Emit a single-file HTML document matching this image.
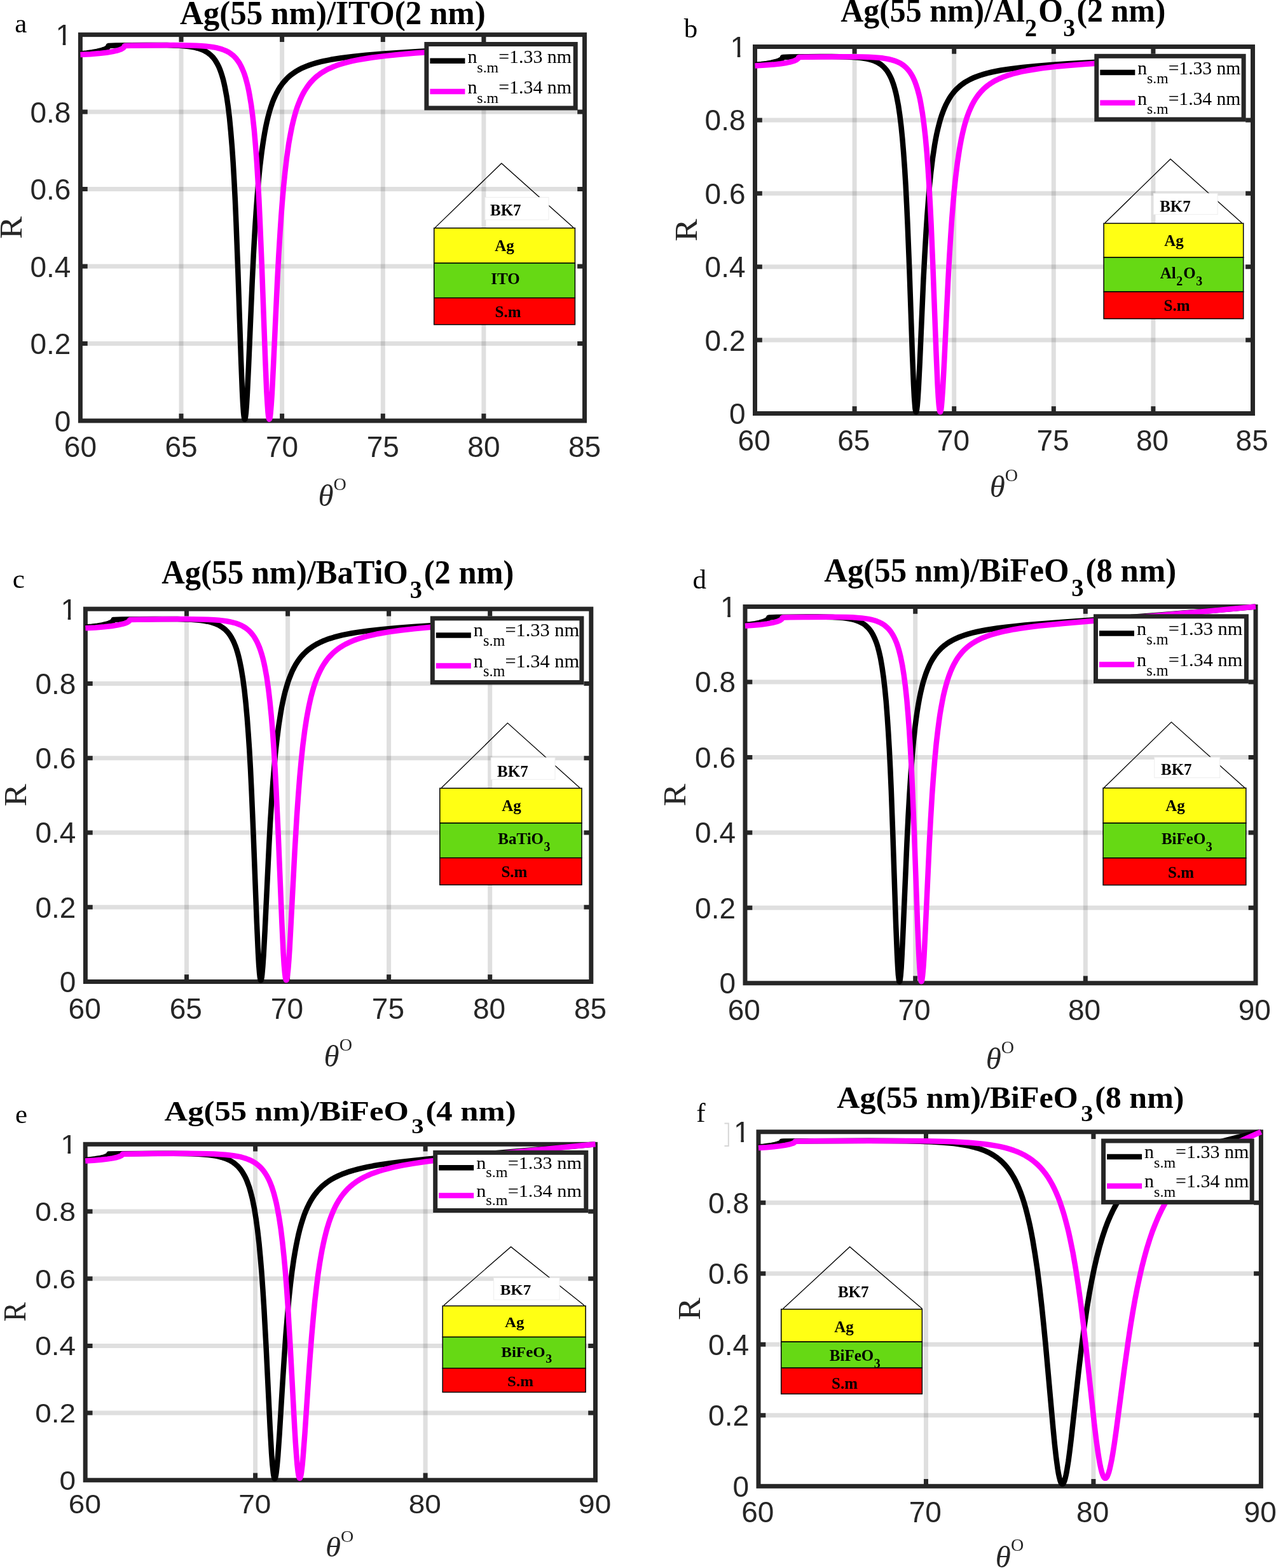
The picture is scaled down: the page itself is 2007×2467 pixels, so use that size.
<!DOCTYPE html>
<html><head><meta charset="utf-8"><title>SPR reflectance curves</title>
<style>html,body{margin:0;padding:0;background:#fff;}svg{display:block;}</style></head>
<body><svg width="2007" height="2467" viewBox="0 0 2007 2467">
<rect width="2007" height="2467" fill="#fff"/>
<path d="M285.0 54.6V662.0" stroke="#262626" stroke-opacity="0.15" stroke-width="7.0" fill="none"/>
<path d="M443.6 54.6V662.0" stroke="#262626" stroke-opacity="0.15" stroke-width="7.0" fill="none"/>
<path d="M602.3 54.6V662.0" stroke="#262626" stroke-opacity="0.15" stroke-width="7.0" fill="none"/>
<path d="M760.9 54.6V662.0" stroke="#262626" stroke-opacity="0.15" stroke-width="7.0" fill="none"/>
<path d="M126.4 540.5H919.5" stroke="#262626" stroke-opacity="0.15" stroke-width="7.0" fill="none"/>
<path d="M126.4 419.0H919.5" stroke="#262626" stroke-opacity="0.15" stroke-width="7.0" fill="none"/>
<path d="M126.4 297.6H919.5" stroke="#262626" stroke-opacity="0.15" stroke-width="7.0" fill="none"/>
<path d="M126.4 176.1H919.5" stroke="#262626" stroke-opacity="0.15" stroke-width="7.0" fill="none"/>
<path d="M285.0 662.0v-11.3M285.0 54.6v11.3M443.6 662.0v-11.3M443.6 54.6v11.3M602.3 662.0v-11.3M602.3 54.6v11.3M760.9 662.0v-11.3M760.9 54.6v11.3M126.4 540.5h11.3M919.5 540.5h-11.3M126.4 419.0h11.3M919.5 419.0h-11.3M126.4 297.6h11.3M919.5 297.6h-11.3M126.4 176.1h11.3M919.5 176.1h-11.3" stroke="#262626" stroke-width="7.0" fill="none"/>
<rect x="126.4" y="54.6" width="793.1" height="607.4" fill="none" stroke="#262626" stroke-width="7.0"/>
<path d="M126.4 84.5L136.3 83.5 145.0 82.3 152.4 81.0 158.7 79.5 163.5 77.9 165.5 77.1 167.1 76.2 168.6 75.2 169.6 74.2 170.2 73.1 170.5 72.1 171.3 71.9 182.3 71.6 206.0 71.2 230.2 71.0 249.3 71.0 262.3 71.1 273.2 71.4 282.6 71.8 290.7 72.5 296.4 73.1 301.6 73.8 306.3 74.7 310.6 75.8 314.6 77.0 318.3 78.4 321.8 80.0 324.9 81.8 327.9 83.8 330.7 86.0 333.3 88.5 335.8 91.2 338.1 94.3 340.2 97.6 342.3 101.3 344.2 105.2 346.0 109.5 347.7 114.2 349.3 119.3 350.9 124.7 352.3 130.6 353.7 136.9 356.4 151.2 358.8 167.5 361.0 186.1 363.0 207.1 365.0 231.4 366.7 256.3 368.3 284.3 369.9 315.3 371.4 350.6 374.1 421.5 379.1 567.3 381.0 615.0 382.0 634.9 383.0 648.9 383.5 653.7 384.0 657.1 384.5 659.0 384.7 659.5 384.9 659.7 385.2 659.5 385.4 659.1 385.9 657.1 386.9 649.4 387.9 636.6 389.0 618.0 390.9 578.5 396.8 441.0 398.8 399.5 400.8 363.5 402.7 334.6 404.6 308.5 406.6 284.8 408.7 263.5 411.6 239.6 413.1 228.8 414.7 218.4 416.3 208.9 418.0 199.9 419.8 191.4 421.7 183.5 423.7 176.1 425.8 169.1 428.0 162.6 430.3 156.6 432.8 151.0 435.4 145.7 438.1 140.7 441.0 136.1 444.0 131.9 447.2 128.0 450.6 124.3 454.2 120.8 458.0 117.6 462.0 114.7 466.3 111.9 470.9 109.3 475.7 106.8 480.9 104.6 486.4 102.5 492.3 100.5 498.7 98.6 505.4 96.9 512.7 95.3 520.4 93.8 536.4 91.2 554.7 88.9 575.8 86.7 600.4 84.7 626.3 82.9 657.6 81.0 776.7 74.7" stroke="#000" stroke-width="8.5" fill="none" stroke-linejoin="round"/>
<path d="M126.4 86.1L142.3 85.2 156.0 84.1 167.7 82.7 177.4 81.1 181.5 80.2 185.1 79.3 188.2 78.2 190.8 77.2 192.8 76.1 194.2 75.1 195.4 73.6 195.7 72.9 195.9 72.2 196.6 72.1 206.5 71.8 228.0 71.4 273.2 71.1 298.4 71.4 308.4 71.7 317.1 72.2 323.8 72.7 329.9 73.4 335.4 74.2 340.5 75.2 345.1 76.3 349.4 77.6 353.3 79.1 356.9 80.7 360.4 82.6 363.5 84.8 366.5 87.1 369.3 89.8 371.9 92.7 374.3 96.0 376.7 99.5 378.8 103.4 380.8 107.6 382.7 112.1 384.6 117.1 386.3 122.5 387.9 128.3 389.5 134.5 391.0 141.3 392.4 148.7 395.1 164.9 397.5 183.4 399.8 204.5 401.9 228.8 403.8 253.9 405.5 281.6 407.3 313.0 408.9 348.3 411.9 420.3 417.3 567.4 419.3 615.4 420.5 635.0 421.5 648.9 422.0 653.6 422.6 657.0 423.1 658.9 423.3 659.4 423.6 659.6 423.8 659.4 424.1 659.0 424.6 657.1 425.1 653.9 425.6 649.5 426.7 636.5 427.9 618.1 429.9 578.2 436.2 442.3 438.3 402.1 440.5 366.6 442.3 339.2 444.2 314.6 446.2 291.9 448.3 271.2 451.1 247.5 454.1 226.3 455.8 216.7 457.5 207.6 459.2 199.1 461.1 191.1 463.0 183.5 465.0 176.4 467.1 169.8 469.4 163.6 471.8 157.6 474.2 152.2 476.8 147.0 479.6 142.2 482.5 137.7 485.5 133.5 488.7 129.5 492.2 125.8 495.8 122.3 499.6 119.1 503.6 116.1 507.9 113.2 512.5 110.6 517.3 108.1 522.5 105.8 528.0 103.6 533.8 101.6 540.0 99.6 546.7 97.8 553.8 96.1 561.0 94.6 568.7 93.2 585.7 90.5 605.2 88.1 627.9 85.8 653.0 83.6 683.1 81.5 718.9 79.2 776.7 75.6" stroke="#f0f" stroke-width="8.5" fill="none" stroke-linejoin="round"/>
<g font-family="'Liberation Sans', Arial, sans-serif" font-size="46.0" fill="#262626"><text x="126.4" y="719.3" text-anchor="middle">60</text><text x="285.0" y="719.3" text-anchor="middle">65</text><text x="443.6" y="719.3" text-anchor="middle">70</text><text x="602.3" y="719.3" text-anchor="middle">75</text><text x="760.9" y="719.3" text-anchor="middle">80</text><text x="919.5" y="719.3" text-anchor="middle">85</text><text x="111.4" y="678.5" text-anchor="end">0</text><text x="111.4" y="557.0" text-anchor="end">0.2</text><text x="111.4" y="435.5" text-anchor="end">0.4</text><text x="111.4" y="314.0" text-anchor="end">0.6</text><text x="111.4" y="192.5" text-anchor="end">0.8</text><text x="113.0" y="71.1" text-anchor="end">1</text></g>
<path d="M89.3 66.0h9.4v6.0h-9.4zM103.3 66.0h9.2v6.0h-9.2z" fill="#fff"/>
<g transform="translate(523.4 38.0) scale(1 1.030)"><text x="0" y="0" text-anchor="middle" font-family="'Liberation Serif', 'Times New Roman', serif" font-weight="bold" font-size="51.0" fill="#000" textLength="480.8" lengthAdjust="spacingAndGlyphs"><tspan>Ag(55 nm)/ITO(2 nm)</tspan></text></g>
<text x="23.2" y="50.8" font-family="'Liberation Serif', 'Times New Roman', serif" font-size="43.0" fill="#000">a</text>
<text transform="translate(33.7 358.0) scale(1 1.000) rotate(-90) scale(1.060 1)" text-anchor="middle" font-family="'Liberation Serif', 'Times New Roman', serif" font-size="50.0" fill="#262626">R</text>
<text x="500.5" y="796.0" font-family="'Liberation Serif', 'Times New Roman', serif" font-size="52.0" fill="#262626"><tspan font-style="italic" font-size="49">θ</tspan><tspan font-size="28.1" dx="0" dy="-25.2">O</tspan></text>
<rect x="670.9" y="69.5" width="234.3" height="100.5" fill="#fff" stroke="#262626" stroke-width="7.0"/>
<path d="M676.4 95.7H731.4" stroke="#000" stroke-width="8.5"/>
<text x="735.4" y="98.9" font-family="'Liberation Serif', 'Times New Roman', serif" font-size="29.9" fill="#000">n<tspan dy="14.7" font-size="23.9">s.m</tspan><tspan dy="-14.7">=1.33 nm</tspan></text>
<path d="M676.4 143.9H731.4" stroke="#f0f" stroke-width="8.5"/>
<text x="735.4" y="147.1" font-family="'Liberation Serif', 'Times New Roman', serif" font-size="29.9" fill="#000">n<tspan dy="14.7" font-size="23.9">s.m</tspan><tspan dy="-14.7">=1.34 nm</tspan></text>
<path d="M684.4 358.1L788.8 257.0L901.9 358.1" fill="none" stroke="#000" stroke-width="1.3"/>
<rect x="762.9" y="310.6" width="100.1" height="35.2" fill="#fff" stroke="#ededed" stroke-width="1"/>
<rect x="682.7" y="358.8" width="221.7" height="55.1" fill="#ffff14" stroke="#000" stroke-width="1.5"/>
<rect x="682.7" y="413.9" width="221.7" height="54.8" fill="#66d914" stroke="#000" stroke-width="1.5"/>
<rect x="682.7" y="468.7" width="221.7" height="42.0" fill="#ff0000" stroke="#000" stroke-width="1.5"/>
<text x="795.3" y="339.4" text-anchor="middle" font-family="'Liberation Serif', 'Times New Roman', serif" font-weight="bold" font-size="25.0" fill="#000">BK7</text>
<text x="793.5" y="394.8" text-anchor="middle" font-family="'Liberation Serif', 'Times New Roman', serif" font-weight="bold" font-size="25.0" fill="#000">Ag</text>
<text x="795.0" y="446.7" text-anchor="middle" font-family="'Liberation Serif', 'Times New Roman', serif" font-weight="bold" font-size="25.0" fill="#000">ITO</text>
<text x="799.0" y="498.5" text-anchor="middle" font-family="'Liberation Serif', 'Times New Roman', serif" font-weight="bold" font-size="25.0" fill="#000">S.m</text>
<path d="M1344.1 73.5V650.5" stroke="#262626" stroke-opacity="0.15" stroke-width="7.0" fill="none"/>
<path d="M1500.7 73.5V650.5" stroke="#262626" stroke-opacity="0.15" stroke-width="7.0" fill="none"/>
<path d="M1657.3 73.5V650.5" stroke="#262626" stroke-opacity="0.15" stroke-width="7.0" fill="none"/>
<path d="M1813.9 73.5V650.5" stroke="#262626" stroke-opacity="0.15" stroke-width="7.0" fill="none"/>
<path d="M1187.5 535.1H1970.5" stroke="#262626" stroke-opacity="0.15" stroke-width="7.0" fill="none"/>
<path d="M1187.5 419.7H1970.5" stroke="#262626" stroke-opacity="0.15" stroke-width="7.0" fill="none"/>
<path d="M1187.5 304.3H1970.5" stroke="#262626" stroke-opacity="0.15" stroke-width="7.0" fill="none"/>
<path d="M1187.5 188.9H1970.5" stroke="#262626" stroke-opacity="0.15" stroke-width="7.0" fill="none"/>
<path d="M1344.1 650.5v-11.3M1344.1 73.5v11.3M1500.7 650.5v-11.3M1500.7 73.5v11.3M1657.3 650.5v-11.3M1657.3 73.5v11.3M1813.9 650.5v-11.3M1813.9 73.5v11.3M1187.5 535.1h11.3M1970.5 535.1h-11.3M1187.5 419.7h11.3M1970.5 419.7h-11.3M1187.5 304.3h11.3M1970.5 304.3h-11.3M1187.5 188.9h11.3M1970.5 188.9h-11.3" stroke="#262626" stroke-width="7.0" fill="none"/>
<rect x="1187.5" y="73.5" width="783.0" height="577.0" fill="none" stroke="#262626" stroke-width="7.0"/>
<path d="M1187.5 101.9L1197.3 101.0 1205.9 99.9 1213.2 98.6 1219.4 97.2 1224.2 95.7 1227.7 94.0 1229.1 93.1 1230.2 92.1 1230.8 91.1 1231.0 90.1 1231.8 90.0 1242.5 89.6 1265.6 89.3 1289.3 89.1 1308.0 89.0 1320.7 89.2 1331.4 89.4 1340.6 89.9 1348.6 90.5 1354.1 91.1 1359.2 91.8 1363.8 92.6 1368.1 93.6 1372.0 94.8 1375.7 96.1 1379.0 97.6 1382.1 99.3 1385.1 101.2 1387.8 103.3 1390.3 105.7 1392.7 108.3 1395.0 111.2 1397.1 114.3 1399.1 117.8 1401.0 121.6 1402.8 125.7 1404.4 130.1 1406.0 134.9 1407.5 140.1 1409.0 145.8 1410.3 151.7 1412.9 165.2 1415.2 180.6 1417.4 198.4 1419.4 218.6 1421.3 241.5 1423.0 265.4 1424.6 291.7 1426.1 321.5 1427.6 354.6 1430.3 421.8 1435.1 560.5 1437.0 605.5 1438.0 624.6 1439.0 637.8 1439.4 642.4 1439.9 645.7 1440.4 647.6 1440.6 648.1 1440.9 648.3 1441.1 648.2 1441.3 647.7 1441.8 645.9 1442.7 638.8 1443.7 626.6 1444.8 608.8 1446.7 571.0 1452.4 440.6 1454.5 400.8 1456.5 366.4 1458.3 339.2 1460.2 314.3 1462.1 291.6 1464.2 271.3 1467.0 248.5 1470.0 228.6 1471.6 219.5 1473.3 210.9 1475.1 203.0 1477.0 195.5 1478.9 188.5 1481.0 181.8 1483.2 175.7 1485.5 169.9 1487.9 164.6 1490.5 159.6 1493.2 154.9 1496.0 150.5 1499.0 146.5 1502.1 142.8 1505.5 139.3 1509.0 136.1 1512.8 133.0 1516.7 130.2 1521.0 127.6 1525.5 125.1 1530.3 122.8 1535.4 120.7 1540.9 118.7 1546.8 116.9 1553.0 115.1 1559.7 113.5 1566.9 112.0 1574.6 110.5 1590.4 108.1 1608.5 105.9 1629.4 103.9 1653.8 102.0 1679.3 100.3 1710.1 98.6 1829.6 92.5" stroke="#000" stroke-width="8.5" fill="none" stroke-linejoin="round"/>
<path d="M1187.5 103.5L1203.2 102.6 1216.7 101.6 1228.2 100.3 1237.8 98.7 1241.9 97.9 1245.5 96.9 1248.6 96.0 1251.1 94.9 1253.1 93.9 1254.5 92.9 1255.7 91.6 1255.9 90.9 1256.1 90.2 1256.8 90.1 1266.4 89.8 1287.2 89.5 1331.5 89.2 1356.2 89.4 1366.0 89.7 1374.5 90.2 1381.1 90.7 1387.1 91.3 1392.5 92.1 1397.4 93.0 1402.0 94.1 1406.2 95.3 1410.0 96.7 1413.6 98.3 1417.0 100.1 1420.1 102.1 1423.0 104.4 1425.7 106.9 1428.2 109.6 1430.6 112.7 1432.9 116.1 1435.0 119.7 1437.0 123.7 1438.9 128.0 1440.6 132.7 1442.3 137.8 1443.9 143.3 1445.5 149.4 1447.0 155.9 1448.3 162.7 1450.9 178.0 1453.3 195.7 1455.6 216.0 1457.7 239.0 1459.5 262.9 1461.2 289.6 1462.9 319.2 1464.6 353.0 1467.4 420.6 1472.7 560.7 1474.7 606.1 1475.8 624.9 1476.8 637.8 1477.4 642.4 1477.9 645.7 1478.4 647.5 1478.6 648.0 1478.9 648.2 1479.1 648.1 1479.3 647.6 1479.9 645.8 1480.4 642.7 1480.9 638.4 1481.9 626.3 1483.1 608.7 1485.1 571.1 1491.2 442.1 1493.3 403.6 1495.4 370.0 1497.2 343.7 1499.1 320.1 1501.0 298.5 1503.1 278.7 1505.9 256.1 1508.9 236.1 1510.5 226.9 1512.1 218.3 1513.9 210.2 1515.7 202.6 1517.6 195.3 1519.6 188.7 1521.7 182.4 1523.9 176.4 1526.3 170.8 1528.7 165.6 1531.3 160.7 1534.0 156.1 1536.9 151.9 1539.9 147.9 1543.0 144.2 1546.4 140.7 1550.0 137.4 1553.8 134.4 1557.8 131.5 1562.0 128.8 1566.5 126.3 1571.3 124.0 1576.4 121.8 1581.9 119.8 1587.6 117.8 1593.8 116.0 1600.4 114.3 1607.5 112.7 1614.6 111.3 1622.2 110.0 1639.1 107.4 1658.5 105.1 1681.0 103.0 1705.8 101.0 1735.6 99.0 1771.0 96.8 1829.6 93.4" stroke="#f0f" stroke-width="8.5" fill="none" stroke-linejoin="round"/>
<g font-family="'Liberation Sans', Arial, sans-serif" font-size="46.0" fill="#262626"><text x="1186.2" y="708.7" text-anchor="middle">60</text><text x="1342.8" y="708.7" text-anchor="middle">65</text><text x="1499.4" y="708.7" text-anchor="middle">70</text><text x="1656.0" y="708.7" text-anchor="middle">75</text><text x="1812.6" y="708.7" text-anchor="middle">80</text><text x="1969.2" y="708.7" text-anchor="middle">85</text><text x="1172.5" y="667.0" text-anchor="end">0</text><text x="1172.5" y="551.6" text-anchor="end">0.2</text><text x="1172.5" y="436.2" text-anchor="end">0.4</text><text x="1172.5" y="320.8" text-anchor="end">0.6</text><text x="1172.5" y="205.4" text-anchor="end">0.8</text><text x="1174.1" y="90.0" text-anchor="end">1</text></g>
<path d="M1150.4 84.9h9.4v6.0h-9.4zM1164.4 84.9h9.2v6.0h-9.2z" fill="#fff"/>
<g transform="translate(1577.8 33.7) scale(1 1.030)"><text x="0" y="0" text-anchor="middle" font-family="'Liberation Serif', 'Times New Roman', serif" font-weight="bold" font-size="51.0" fill="#000" textLength="511.0" lengthAdjust="spacingAndGlyphs"><tspan>Ag(55 nm)/Al</tspan><tspan dx="0.3" dy="22.9" font-size="38.8">2</tspan><tspan dx="2.2" dy="-22.9">O</tspan><tspan dx="0.3" dy="22.9" font-size="38.8">3</tspan><tspan dx="2.2" dy="-22.9">(2 nm)</tspan></text></g>
<text x="1075.7" y="59.4" font-family="'Liberation Serif', 'Times New Roman', serif" font-size="43.0" fill="#000">b</text>
<text transform="translate(1096.0 362.0) scale(1 1.000) rotate(-90) scale(1.060 1)" text-anchor="middle" font-family="'Liberation Serif', 'Times New Roman', serif" font-size="50.0" fill="#262626">R</text>
<text x="1556.7" y="782.0" font-family="'Liberation Serif', 'Times New Roman', serif" font-size="52.0" fill="#262626"><tspan font-style="italic" font-size="49">θ</tspan><tspan font-size="28.1" dx="0" dy="-25.2">O</tspan></text>
<rect x="1724.8" y="88.3" width="231.3" height="99.6" fill="#fff" stroke="#262626" stroke-width="7.0"/>
<path d="M1730.3 114.0H1785.3" stroke="#000" stroke-width="8.5"/>
<text x="1789.3" y="116.7" font-family="'Liberation Serif', 'Times New Roman', serif" font-size="29.6" fill="#000">n<tspan dy="14.5" font-size="23.7">s.m</tspan><tspan dy="-14.5">=1.33 nm</tspan></text>
<path d="M1730.3 161.8H1785.3" stroke="#f0f" stroke-width="8.5"/>
<text x="1789.3" y="164.5" font-family="'Liberation Serif', 'Times New Roman', serif" font-size="29.6" fill="#000">n<tspan dy="14.5" font-size="23.7">s.m</tspan><tspan dy="-14.5">=1.34 nm</tspan></text>
<path d="M1738.0 350.7L1841.0 250.2L1953.3 350.7" fill="none" stroke="#000" stroke-width="1.3"/>
<rect x="1814.3" y="304.2" width="100.8" height="33.1" fill="#fff" stroke="#ededed" stroke-width="1"/>
<rect x="1736.1" y="351.4" width="219.6" height="53.6" fill="#ffff14" stroke="#000" stroke-width="1.5"/>
<rect x="1736.1" y="405.0" width="219.6" height="54.1" fill="#66d914" stroke="#000" stroke-width="1.5"/>
<rect x="1736.1" y="459.1" width="219.6" height="42.4" fill="#ff0000" stroke="#000" stroke-width="1.5"/>
<text x="1848.5" y="332.5" text-anchor="middle" font-family="'Liberation Serif', 'Times New Roman', serif" font-weight="bold" font-size="25.0" fill="#000">BK7</text>
<text x="1846.6" y="387.0" text-anchor="middle" font-family="'Liberation Serif', 'Times New Roman', serif" font-weight="bold" font-size="25.0" fill="#000">Ag</text>
<text x="1857.9" y="438.1" text-anchor="middle" font-family="'Liberation Serif', 'Times New Roman', serif" font-weight="bold" font-size="25.0" fill="#000"><tspan>Al</tspan><tspan dx="0.5" dy="10.5" font-size="20.0">2</tspan><tspan dx="1.0" dy="-10.5">O</tspan><tspan dx="0.5" dy="10.5" font-size="20.0">3</tspan></text>
<text x="1851.0" y="488.5" text-anchor="middle" font-family="'Liberation Serif', 'Times New Roman', serif" font-weight="bold" font-size="25.0" fill="#000">S.m</text>
<path d="M293.5 958.1V1544.5" stroke="#262626" stroke-opacity="0.15" stroke-width="7.0" fill="none"/>
<path d="M452.6 958.1V1544.5" stroke="#262626" stroke-opacity="0.15" stroke-width="7.0" fill="none"/>
<path d="M611.6 958.1V1544.5" stroke="#262626" stroke-opacity="0.15" stroke-width="7.0" fill="none"/>
<path d="M770.7 958.1V1544.5" stroke="#262626" stroke-opacity="0.15" stroke-width="7.0" fill="none"/>
<path d="M134.4 1427.2H929.8" stroke="#262626" stroke-opacity="0.15" stroke-width="7.0" fill="none"/>
<path d="M134.4 1309.9H929.8" stroke="#262626" stroke-opacity="0.15" stroke-width="7.0" fill="none"/>
<path d="M134.4 1192.7H929.8" stroke="#262626" stroke-opacity="0.15" stroke-width="7.0" fill="none"/>
<path d="M134.4 1075.4H929.8" stroke="#262626" stroke-opacity="0.15" stroke-width="7.0" fill="none"/>
<path d="M293.5 1544.5v-11.3M293.5 958.1v11.3M452.6 1544.5v-11.3M452.6 958.1v11.3M611.6 1544.5v-11.3M611.6 958.1v11.3M770.7 1544.5v-11.3M770.7 958.1v11.3M134.4 1427.2h11.3M929.8 1427.2h-11.3M134.4 1309.9h11.3M929.8 1309.9h-11.3M134.4 1192.7h11.3M929.8 1192.7h-11.3M134.4 1075.4h11.3M929.8 1075.4h-11.3" stroke="#262626" stroke-width="7.0" fill="none"/>
<rect x="134.4" y="958.1" width="795.4" height="586.4" fill="none" stroke="#262626" stroke-width="7.0"/>
<path d="M134.4 986.6L144.3 985.7 153.0 984.6 160.5 983.4 166.8 982.0 171.6 980.5 175.2 978.9 176.7 977.9 177.7 977.0 178.4 976.0 178.6 975.0 179.5 974.9 191.8 974.5 218.1 974.2 244.4 973.9 264.9 973.9 278.9 974.1 290.6 974.4 300.8 974.8 309.6 975.5 315.6 976.1 321.0 976.8 326.1 977.7 330.7 978.7 334.9 979.9 338.8 981.3 342.5 982.8 345.9 984.6 349.1 986.6 352.0 988.7 354.8 991.1 357.4 993.8 359.9 996.8 362.2 1000.0 364.3 1003.5 366.4 1007.4 368.3 1011.5 370.1 1016.0 371.9 1020.9 373.5 1026.2 375.1 1032.0 376.6 1038.2 379.4 1051.9 382.0 1067.6 384.4 1085.6 386.6 1106.0 388.7 1129.3 390.5 1153.5 392.3 1180.1 394.0 1210.2 395.6 1243.8 398.5 1311.9 403.9 1452.6 406.0 1499.0 407.1 1518.4 408.2 1531.8 408.7 1536.4 409.2 1539.7 409.7 1541.6 410.0 1542.1 410.3 1542.2 410.5 1542.1 410.7 1541.6 411.3 1539.8 411.8 1536.7 412.3 1532.4 413.4 1519.9 414.6 1502.3 416.7 1464.0 423.0 1332.8 425.1 1293.6 427.3 1259.0 429.2 1231.9 431.2 1207.6 433.2 1185.4 435.4 1165.0 438.3 1142.1 441.5 1121.7 443.1 1112.5 444.9 1103.7 446.7 1095.5 448.6 1087.8 450.7 1080.5 452.8 1073.7 455.0 1067.3 457.4 1061.3 459.8 1055.7 462.4 1050.5 465.1 1045.5 468.0 1040.9 471.0 1036.7 474.2 1032.7 477.6 1029.0 481.2 1025.5 484.9 1022.2 489.0 1019.2 493.2 1016.3 497.7 1013.6 502.5 1011.2 507.6 1008.8 513.1 1006.6 518.8 1004.6 525.0 1002.7 531.6 1000.9 538.6 999.2 546.2 997.6 553.7 996.2 561.8 994.9 579.7 992.4 600.3 990.2 624.2 988.0 650.2 986.1 681.5 984.1 786.6 978.1" stroke="#000" stroke-width="8.5" fill="none" stroke-linejoin="round"/>
<path d="M134.4 988.2L150.2 987.4 164.0 986.3 175.7 985.0 185.5 983.4 193.2 981.7 196.4 980.7 199.0 979.7 200.9 978.8 202.4 977.8 203.6 976.5 203.9 975.8 204.1 975.1 204.9 975.0 215.9 974.7 239.9 974.4 289.2 974.1 316.4 974.4 327.2 974.7 336.6 975.2 343.7 975.7 350.1 976.4 355.9 977.2 361.2 978.2 366.1 979.3 370.7 980.5 374.8 982.0 378.7 983.6 382.3 985.5 385.7 987.5 388.9 989.9 391.9 992.5 394.6 995.3 397.2 998.4 399.7 1001.9 402.0 1005.7 404.2 1009.8 406.2 1014.2 408.2 1019.0 410.0 1024.2 411.8 1029.9 413.5 1035.9 415.1 1042.5 416.6 1049.6 419.5 1065.3 422.1 1083.3 424.5 1103.8 426.8 1126.9 428.8 1151.0 430.7 1178.1 432.6 1208.5 434.4 1242.5 437.6 1311.2 443.4 1452.9 445.6 1499.2 446.8 1518.2 448.0 1531.5 448.6 1536.3 449.1 1539.5 449.7 1541.4 449.9 1541.9 450.2 1542.1 450.5 1542.0 450.7 1541.6 451.2 1540.1 451.7 1537.7 452.2 1534.2 453.3 1524.3 454.4 1510.2 455.6 1492.0 456.9 1467.8 463.6 1339.2 466.9 1283.4 469.2 1250.9 471.4 1222.2 473.8 1196.3 476.3 1172.9 479.2 1150.2 482.3 1130.0 484.0 1120.8 485.7 1111.9 487.5 1103.6 489.3 1095.8 491.3 1088.4 493.3 1081.5 495.4 1075.0 497.7 1068.8 500.0 1063.0 502.5 1057.5 505.1 1052.4 507.8 1047.5 510.7 1043.0 513.7 1038.7 516.9 1034.7 520.3 1031.0 523.8 1027.4 527.6 1024.1 531.6 1021.0 535.8 1018.1 540.2 1015.4 544.9 1012.8 550.0 1010.4 555.3 1008.1 560.9 1006.0 566.9 1004.0 573.3 1002.1 580.1 1000.4 587.1 998.8 594.5 997.2 610.9 994.4 629.6 991.8 651.2 989.4 675.4 987.1 704.0 984.8 738.4 982.4 786.6 979.3" stroke="#f0f" stroke-width="8.5" fill="none" stroke-linejoin="round"/>
<g font-family="'Liberation Sans', Arial, sans-serif" font-size="46.0" fill="#262626"><text x="133.2" y="1602.6" text-anchor="middle">60</text><text x="292.3" y="1602.6" text-anchor="middle">65</text><text x="451.4" y="1602.6" text-anchor="middle">70</text><text x="610.4" y="1602.6" text-anchor="middle">75</text><text x="769.5" y="1602.6" text-anchor="middle">80</text><text x="928.6" y="1602.6" text-anchor="middle">85</text><text x="119.4" y="1561.0" text-anchor="end">0</text><text x="119.4" y="1443.7" text-anchor="end">0.2</text><text x="119.4" y="1326.4" text-anchor="end">0.4</text><text x="119.4" y="1209.1" text-anchor="end">0.6</text><text x="119.4" y="1091.8" text-anchor="end">0.8</text><text x="121.0" y="974.6" text-anchor="end">1</text></g>
<path d="M97.3 969.5h9.4v6.0h-9.4zM111.3 969.5h9.2v6.0h-9.2z" fill="#fff"/>
<g transform="translate(531.3 917.9) scale(1 1.020)"><text x="0" y="0" text-anchor="middle" font-family="'Liberation Serif', 'Times New Roman', serif" font-weight="bold" font-size="51.0" fill="#000" textLength="554.2" lengthAdjust="spacingAndGlyphs"><tspan>Ag(55 nm)/BaTiO</tspan><tspan dx="3.1" dy="22.9" font-size="38.8">3</tspan><tspan dx="2.9" dy="-22.9">(2 nm)</tspan></text></g>
<text x="19.8" y="924.7" font-family="'Liberation Serif', 'Times New Roman', serif" font-size="43.0" fill="#000">c</text>
<text transform="translate(41.3 1251.0) scale(1 1.000) rotate(-90) scale(1.060 1)" text-anchor="middle" font-family="'Liberation Serif', 'Times New Roman', serif" font-size="50.0" fill="#262626">R</text>
<text x="509.6" y="1678.0" font-family="'Liberation Serif', 'Times New Roman', serif" font-size="52.0" fill="#262626"><tspan font-style="italic" font-size="49">θ</tspan><tspan font-size="28.1" dx="0" dy="-25.2">O</tspan></text>
<rect x="680.3" y="972.9" width="234.6" height="100.7" fill="#fff" stroke="#262626" stroke-width="7.0"/>
<path d="M685.8 999.4H740.8" stroke="#000" stroke-width="8.5"/>
<text x="744.8" y="1001.3" font-family="'Liberation Serif', 'Times New Roman', serif" font-size="30.4" fill="#000">n<tspan dy="14.9" font-size="24.3">s.m</tspan><tspan dy="-14.9">=1.33 nm</tspan></text>
<path d="M685.8 1047.6H740.8" stroke="#f0f" stroke-width="8.5"/>
<text x="744.8" y="1049.5" font-family="'Liberation Serif', 'Times New Roman', serif" font-size="30.4" fill="#000">n<tspan dy="14.9" font-size="24.3">s.m</tspan><tspan dy="-14.9">=1.34 nm</tspan></text>
<path d="M694.4 1239.5L798.4 1137.6L911.9 1239.5" fill="none" stroke="#000" stroke-width="1.3"/>
<rect x="772.2" y="1192.0" width="100.8" height="34.3" fill="#fff" stroke="#ededed" stroke-width="1"/>
<rect x="691.8" y="1240.2" width="223.2" height="54.8" fill="#ffff14" stroke="#000" stroke-width="1.5"/>
<rect x="691.8" y="1295.0" width="223.2" height="54.7" fill="#66d914" stroke="#000" stroke-width="1.5"/>
<rect x="691.8" y="1349.7" width="223.2" height="42.5" fill="#ff0000" stroke="#000" stroke-width="1.5"/>
<text x="806.4" y="1221.5" text-anchor="middle" font-family="'Liberation Serif', 'Times New Roman', serif" font-weight="bold" font-size="25.0" fill="#000">BK7</text>
<text x="804.6" y="1276.2" text-anchor="middle" font-family="'Liberation Serif', 'Times New Roman', serif" font-weight="bold" font-size="25.0" fill="#000">Ag</text>
<text x="824.4" y="1328.1" text-anchor="middle" font-family="'Liberation Serif', 'Times New Roman', serif" font-weight="bold" font-size="25.0" fill="#000"><tspan>BaTiO</tspan><tspan dx="0.5" dy="10.5" font-size="20.0">3</tspan></text>
<text x="808.9" y="1380.0" text-anchor="middle" font-family="'Liberation Serif', 'Times New Roman', serif" font-weight="bold" font-size="25.0" fill="#000">S.m</text>
<path d="M1439.7 954.5V1546.8" stroke="#262626" stroke-opacity="0.15" stroke-width="7.0" fill="none"/>
<path d="M1707.3 954.5V1546.8" stroke="#262626" stroke-opacity="0.15" stroke-width="7.0" fill="none"/>
<path d="M1172.0 1428.3H1975.0" stroke="#262626" stroke-opacity="0.15" stroke-width="7.0" fill="none"/>
<path d="M1172.0 1309.9H1975.0" stroke="#262626" stroke-opacity="0.15" stroke-width="7.0" fill="none"/>
<path d="M1172.0 1191.4H1975.0" stroke="#262626" stroke-opacity="0.15" stroke-width="7.0" fill="none"/>
<path d="M1172.0 1073.0H1975.0" stroke="#262626" stroke-opacity="0.15" stroke-width="7.0" fill="none"/>
<path d="M1439.7 1546.8v-11.3M1439.7 954.5v11.3M1707.3 1546.8v-11.3M1707.3 954.5v11.3M1172.0 1428.3h11.3M1975.0 1428.3h-11.3M1172.0 1309.9h11.3M1975.0 1309.9h-11.3M1172.0 1191.4h11.3M1975.0 1191.4h-11.3M1172.0 1073.0h11.3M1975.0 1073.0h-11.3" stroke="#262626" stroke-width="7.0" fill="none"/>
<rect x="1172.0" y="954.5" width="803.0" height="592.3" fill="none" stroke="#262626" stroke-width="7.0"/>
<path d="M1172.0 983.1L1180.4 982.2 1187.7 981.1 1193.9 979.8 1199.2 978.4 1203.2 977.0 1206.3 975.4 1207.5 974.5 1208.5 973.5 1209.0 972.6 1209.2 971.6 1210.0 971.5 1221.1 971.1 1245.0 970.7 1268.3 970.5 1286.5 970.5 1298.8 970.7 1309.3 971.0 1318.2 971.5 1326.0 972.1 1331.3 972.8 1336.1 973.5 1340.4 974.4 1344.5 975.5 1348.2 976.7 1351.7 978.1 1354.9 979.7 1357.9 981.4 1360.7 983.4 1363.3 985.7 1365.7 988.1 1368.0 990.8 1370.2 993.8 1372.2 997.1 1374.1 1000.7 1375.9 1004.6 1377.6 1008.8 1379.3 1013.4 1380.8 1018.3 1382.2 1023.6 1383.6 1029.5 1385.0 1035.7 1387.4 1049.6 1389.7 1065.6 1391.8 1083.6 1393.8 1104.2 1395.6 1127.7 1397.2 1151.8 1398.8 1179.3 1400.3 1209.3 1401.8 1243.4 1404.3 1311.9 1409.1 1454.6 1411.0 1501.0 1412.0 1520.4 1412.9 1534.0 1413.9 1541.9 1414.3 1543.8 1414.5 1544.3 1414.8 1544.5 1415.0 1544.3 1415.2 1543.9 1415.7 1542.1 1416.6 1534.8 1417.6 1522.6 1418.6 1504.3 1420.4 1466.2 1426.4 1327.7 1428.5 1284.7 1430.6 1248.1 1432.6 1217.2 1434.7 1189.8 1437.0 1164.9 1439.4 1143.0 1441.0 1130.7 1442.6 1119.5 1444.3 1109.0 1446.1 1099.0 1448.0 1089.8 1450.0 1081.3 1452.0 1073.4 1454.3 1066.0 1456.6 1059.1 1459.1 1052.7 1461.7 1046.7 1464.5 1041.1 1467.5 1036.0 1470.7 1031.3 1474.1 1026.8 1477.7 1022.7 1481.1 1019.3 1484.7 1016.2 1488.5 1013.3 1492.6 1010.5 1497.0 1008.0 1501.6 1005.6 1506.5 1003.3 1511.7 1001.2 1517.3 999.3 1523.3 997.4 1529.7 995.7 1536.6 994.0 1543.9 992.5 1551.8 991.0 1569.4 988.3 1582.1 986.7 1596.1 985.1 1611.9 983.6 1629.8 982.0 1668.7 979.0 1774.2 971.4 1825.0 967.5 1892.3 961.9 1975.0 954.5" stroke="#000" stroke-width="8.5" fill="none" stroke-linejoin="round"/>
<path d="M1172.0 984.7L1185.3 983.8 1196.9 982.8 1206.7 981.4 1215.0 979.9 1221.5 978.2 1224.1 977.2 1226.3 976.3 1227.9 975.3 1229.2 974.4 1230.2 973.1 1230.6 971.7 1231.3 971.6 1241.4 971.3 1263.2 971.0 1307.2 970.7 1331.3 971.0 1340.9 971.3 1349.2 971.9 1355.4 972.4 1360.9 973.1 1366.0 973.9 1370.7 974.9 1375.0 976.0 1379.0 977.3 1382.6 978.8 1386.0 980.5 1389.3 982.4 1392.2 984.5 1395.0 986.9 1397.6 989.5 1400.1 992.5 1402.3 995.6 1404.5 999.2 1406.5 1002.9 1408.4 1007.1 1410.3 1011.6 1412.0 1016.5 1413.6 1021.7 1415.1 1027.4 1416.6 1033.5 1419.4 1047.3 1421.9 1063.2 1424.2 1081.2 1426.4 1101.9 1428.4 1125.5 1430.2 1149.8 1431.9 1177.5 1433.6 1208.1 1435.2 1242.1 1438.0 1311.3 1443.2 1454.6 1445.2 1501.3 1446.3 1520.6 1447.3 1533.7 1447.8 1538.5 1448.3 1541.6 1448.8 1543.6 1449.0 1544.1 1449.3 1544.2 1449.5 1544.1 1449.8 1543.6 1450.2 1541.8 1451.2 1534.4 1452.3 1522.1 1453.5 1503.7 1455.4 1465.9 1461.7 1328.6 1463.9 1287.0 1466.1 1250.6 1468.2 1220.9 1470.4 1193.8 1472.7 1169.5 1475.2 1148.0 1476.8 1135.7 1478.4 1124.4 1480.2 1113.8 1482.0 1104.0 1483.8 1094.8 1485.9 1086.1 1488.0 1078.0 1490.2 1070.5 1492.5 1063.5 1495.0 1056.9 1497.7 1050.7 1500.4 1045.1 1503.4 1039.8 1506.5 1034.8 1509.9 1030.3 1513.4 1026.0 1516.8 1022.4 1520.4 1019.1 1524.2 1015.9 1528.3 1013.0 1532.6 1010.2 1537.2 1007.6 1542.1 1005.2 1547.3 1002.9 1552.9 1000.8 1558.8 998.8 1565.1 996.9 1571.9 995.1 1579.1 993.4 1586.9 991.8 1595.3 990.2 1604.2 988.8 1618.2 986.8 1633.9 984.8 1651.7 982.9 1672.3 980.9 1706.9 977.9 1798.2 970.4 1849.0 966.1 1905.8 961.0 1975.0 954.5" stroke="#f0f" stroke-width="8.5" fill="none" stroke-linejoin="round"/>
<g font-family="'Liberation Sans', Arial, sans-serif" font-size="46.0" fill="#262626"><text x="1170.3" y="1605.0" text-anchor="middle">60</text><text x="1438.0" y="1605.0" text-anchor="middle">70</text><text x="1705.6" y="1605.0" text-anchor="middle">80</text><text x="1973.3" y="1605.0" text-anchor="middle">90</text><text x="1157.0" y="1563.3" text-anchor="end">0</text><text x="1157.0" y="1444.8" text-anchor="end">0.2</text><text x="1157.0" y="1326.3" text-anchor="end">0.4</text><text x="1157.0" y="1207.9" text-anchor="end">0.6</text><text x="1157.0" y="1089.4" text-anchor="end">0.8</text><text x="1158.6" y="971.0" text-anchor="end">1</text></g>
<path d="M1134.9 965.9h9.4v6.0h-9.4zM1148.9 965.9h9.2v6.0h-9.2z" fill="#fff"/>
<g transform="translate(1573.2 914.7) scale(1 1.030)"><text x="0" y="0" text-anchor="middle" font-family="'Liberation Serif', 'Times New Roman', serif" font-weight="bold" font-size="51.0" fill="#000" textLength="553.9" lengthAdjust="spacingAndGlyphs"><tspan>Ag(55 nm)/BiFeO</tspan><tspan dx="3.8" dy="22.9" font-size="38.8">3</tspan><tspan dx="2.9" dy="-22.9">(8 nm)</tspan></text></g>
<text x="1089.4" y="926.3" font-family="'Liberation Serif', 'Times New Roman', serif" font-size="43.0" fill="#000">d</text>
<text transform="translate(1077.9 1250.7) scale(1 1.000) rotate(-90) scale(1.060 1)" text-anchor="middle" font-family="'Liberation Serif', 'Times New Roman', serif" font-size="50.0" fill="#262626">R</text>
<text x="1550.7" y="1682.0" font-family="'Liberation Serif', 'Times New Roman', serif" font-size="52.0" fill="#262626"><tspan font-style="italic" font-size="49">θ</tspan><tspan font-size="28.1" dx="0" dy="-25.2">O</tspan></text>
<rect x="1723.5" y="969.8" width="236.9" height="102.0" fill="#fff" stroke="#262626" stroke-width="7.0"/>
<path d="M1729.0 996.4H1784.0" stroke="#000" stroke-width="8.5"/>
<text x="1788.0" y="999.2" font-family="'Liberation Serif', 'Times New Roman', serif" font-size="30.4" fill="#000">n<tspan dy="14.9" font-size="24.3">s.m</tspan><tspan dy="-14.9">=1.33 nm</tspan></text>
<path d="M1729.0 1045.6H1784.0" stroke="#f0f" stroke-width="8.5"/>
<text x="1788.0" y="1048.4" font-family="'Liberation Serif', 'Times New Roman', serif" font-size="30.4" fill="#000">n<tspan dy="14.9" font-size="24.3">s.m</tspan><tspan dy="-14.9">=1.34 nm</tspan></text>
<path d="M1736.6 1239.2L1842.4 1136.1L1957.6 1239.2" fill="none" stroke="#000" stroke-width="1.3"/>
<rect x="1815.8" y="1191.3" width="102.9" height="32.4" fill="#fff" stroke="#ededed" stroke-width="1"/>
<rect x="1735.1" y="1239.8" width="224.7" height="55.2" fill="#ffff14" stroke="#000" stroke-width="1.5"/>
<rect x="1735.1" y="1295.0" width="224.7" height="55.0" fill="#66d914" stroke="#000" stroke-width="1.5"/>
<rect x="1735.1" y="1350.0" width="224.7" height="42.5" fill="#ff0000" stroke="#000" stroke-width="1.5"/>
<text x="1850.3" y="1219.4" text-anchor="middle" font-family="'Liberation Serif', 'Times New Roman', serif" font-weight="bold" font-size="25.0" fill="#000">BK7</text>
<text x="1848.5" y="1275.5" text-anchor="middle" font-family="'Liberation Serif', 'Times New Roman', serif" font-weight="bold" font-size="25.0" fill="#000">Ag</text>
<text x="1866.9" y="1328.1" text-anchor="middle" font-family="'Liberation Serif', 'Times New Roman', serif" font-weight="bold" font-size="25.0" fill="#000"><tspan>BiFeO</tspan><tspan dx="0.5" dy="10.5" font-size="20.0">3</tspan></text>
<text x="1857.5" y="1381.4" text-anchor="middle" font-family="'Liberation Serif', 'Times New Roman', serif" font-weight="bold" font-size="25.0" fill="#000">S.m</text>
<path d="M401.6 1800.3V2328.8" stroke="#262626" stroke-opacity="0.15" stroke-width="7.0" fill="none"/>
<path d="M669.1 1800.3V2328.8" stroke="#262626" stroke-opacity="0.15" stroke-width="7.0" fill="none"/>
<path d="M134.2 2223.1H936.5" stroke="#262626" stroke-opacity="0.15" stroke-width="7.0" fill="none"/>
<path d="M134.2 2117.4H936.5" stroke="#262626" stroke-opacity="0.15" stroke-width="7.0" fill="none"/>
<path d="M134.2 2011.7H936.5" stroke="#262626" stroke-opacity="0.15" stroke-width="7.0" fill="none"/>
<path d="M134.2 1906.0H936.5" stroke="#262626" stroke-opacity="0.15" stroke-width="7.0" fill="none"/>
<path d="M401.6 2328.8v-11.3M401.6 1800.3v11.3M669.1 2328.8v-11.3M669.1 1800.3v11.3M134.2 2223.1h11.3M936.5 2223.1h-11.3M134.2 2117.4h11.3M936.5 2117.4h-11.3M134.2 2011.7h11.3M936.5 2011.7h-11.3M134.2 1906.0h11.3M936.5 1906.0h-11.3" stroke="#262626" stroke-width="7.0" fill="none"/>
<rect x="134.2" y="1800.3" width="802.3" height="528.5" fill="none" stroke="#262626" stroke-width="7.0"/>
<path d="M134.2 1825.1L142.5 1824.2 149.7 1823.3 156.0 1822.3 161.2 1821.2 165.2 1820.0 168.2 1818.8 169.6 1818.0 170.5 1817.3 171.1 1816.4 171.3 1815.6 172.7 1815.5 188.1 1815.2 220.5 1814.9 249.8 1814.7 272.2 1814.7 287.7 1814.9 300.8 1815.2 311.9 1815.7 321.7 1816.4 328.0 1817.0 333.8 1817.8 339.1 1818.6 344.0 1819.6 348.5 1820.8 352.7 1822.1 356.6 1823.5 360.3 1825.1 363.7 1827.0 366.9 1829.0 370.0 1831.3 372.8 1833.8 375.5 1836.5 378.0 1839.5 380.4 1842.8 382.6 1846.3 384.8 1850.1 386.8 1854.2 388.7 1858.7 390.5 1863.6 392.3 1868.7 393.9 1874.4 395.5 1880.4 397.1 1886.8 400.0 1901.1 402.6 1917.2 405.1 1935.5 407.5 1956.6 409.5 1978.0 411.5 2001.9 413.4 2028.8 415.3 2058.7 418.6 2119.8 424.7 2244.9 427.1 2286.7 428.4 2304.4 429.7 2316.6 430.3 2321.0 430.9 2324.0 431.5 2325.7 431.8 2326.2 432.1 2326.3 432.4 2326.2 432.7 2325.7 433.3 2324.0 433.9 2321.2 434.5 2317.4 435.8 2306.1 437.2 2290.1 439.6 2255.8 444.6 2173.7 447.0 2136.4 449.5 2100.3 452.1 2069.1 454.4 2043.9 456.8 2021.2 459.3 2000.6 462.0 1981.8 463.8 1971.0 465.6 1960.9 467.5 1951.5 469.4 1942.6 471.5 1934.2 473.7 1926.3 476.0 1918.9 478.3 1912.0 480.8 1905.6 483.5 1899.5 486.3 1893.8 489.2 1888.5 492.3 1883.5 495.6 1878.8 499.0 1874.5 502.7 1870.4 506.3 1866.8 510.2 1863.5 514.2 1860.4 518.4 1857.4 522.9 1854.7 527.7 1852.1 532.8 1849.6 538.2 1847.3 543.9 1845.2 550.0 1843.1 556.4 1841.2 563.3 1839.3 570.7 1837.6 578.5 1835.9 586.9 1834.3 596.0 1832.8 611.6 1830.5 629.3 1828.2 649.5 1825.9 673.1 1823.6 713.3 1819.9 842.6 1808.8 936.5 1800.3" stroke="#000" stroke-width="8.5" fill="none" stroke-linejoin="round"/>
<path d="M134.2 1826.5L147.4 1825.7 158.9 1824.8 168.8 1823.6 177.0 1822.4 183.5 1821.0 188.3 1819.4 190.2 1818.5 191.6 1817.7 192.4 1816.7 192.8 1815.7 193.9 1815.7 208.0 1815.4 238.7 1815.0 294.3 1814.8 310.7 1815.0 324.6 1815.2 336.6 1815.6 347.1 1816.2 354.4 1816.7 361.1 1817.4 367.2 1818.2 372.8 1819.2 378.0 1820.2 382.8 1821.5 387.2 1822.9 391.4 1824.5 395.3 1826.2 399.0 1828.2 402.4 1830.4 405.6 1832.9 408.6 1835.5 411.5 1838.5 414.2 1841.7 416.7 1845.2 419.1 1849.0 421.3 1853.1 423.5 1857.4 425.5 1862.2 427.5 1867.4 429.3 1872.9 431.1 1878.8 432.8 1885.3 434.5 1892.2 436.0 1899.5 439.0 1915.7 441.8 1934.2 444.3 1954.8 446.6 1976.5 448.8 2000.5 450.9 2027.5 453.0 2057.7 456.6 2118.9 463.3 2244.7 464.7 2268.3 466.0 2286.7 467.4 2304.3 468.8 2316.4 469.5 2320.6 470.1 2323.5 470.8 2325.2 471.1 2325.6 471.4 2325.8 471.8 2325.6 472.1 2325.1 472.7 2323.5 473.4 2320.7 474.1 2316.7 475.5 2305.3 476.9 2289.4 479.5 2255.2 484.9 2173.7 487.5 2137.1 490.2 2102.2 492.9 2071.3 495.2 2047.3 497.7 2025.5 500.2 2005.5 502.9 1987.3 504.7 1976.7 506.5 1966.7 508.5 1957.2 510.5 1948.2 512.6 1939.8 514.7 1931.9 517.0 1924.4 519.4 1917.4 521.9 1910.8 524.5 1904.6 527.2 1898.8 530.1 1893.3 533.1 1888.2 536.3 1883.3 539.7 1878.8 543.3 1874.5 546.8 1870.7 550.6 1867.1 554.6 1863.7 558.7 1860.6 563.1 1857.6 567.8 1854.7 572.8 1852.0 578.1 1849.5 583.6 1847.1 589.5 1844.9 595.8 1842.7 602.5 1840.7 609.6 1838.8 617.2 1836.9 625.3 1835.1 634.0 1833.4 650.3 1830.6 668.9 1827.8 690.3 1825.1 715.5 1822.2 764.8 1817.1 936.5 1800.3" stroke="#f0f" stroke-width="8.5" fill="none" stroke-linejoin="round"/>
<g font-family="'Liberation Sans', Arial, sans-serif" font-size="46.0" fill="#262626"><g transform="translate(133.4 2380.7) scale(1 0.910)"><text x="0" y="0" text-anchor="middle">60</text></g><g transform="translate(400.8 2380.7) scale(1 0.910)"><text x="0" y="0" text-anchor="middle">70</text></g><g transform="translate(668.3 2380.7) scale(1 0.910)"><text x="0" y="0" text-anchor="middle">80</text></g><g transform="translate(935.7 2380.7) scale(1 0.910)"><text x="0" y="0" text-anchor="middle">90</text></g><g transform="translate(119.2 2343.8) scale(1 0.910)"><text x="0" y="0" text-anchor="end">0</text></g><g transform="translate(119.2 2238.1) scale(1 0.910)"><text x="0" y="0" text-anchor="end">0.2</text></g><g transform="translate(119.2 2132.4) scale(1 0.910)"><text x="0" y="0" text-anchor="end">0.4</text></g><g transform="translate(119.2 2026.7) scale(1 0.910)"><text x="0" y="0" text-anchor="end">0.6</text></g><g transform="translate(119.2 1921.0) scale(1 0.910)"><text x="0" y="0" text-anchor="end">0.8</text></g><g transform="translate(120.8 1815.3) scale(1 0.910)"><text x="0" y="0" text-anchor="end">1</text></g></g>
<path d="M97.1 1810.7h9.4v5.4h-9.4zM111.1 1810.7h9.2v5.4h-9.2z" fill="#fff"/>
<g transform="translate(535.1 1762.7) scale(1 0.880)"><text x="0" y="0" text-anchor="middle" font-family="'Liberation Serif', 'Times New Roman', serif" font-weight="bold" font-size="51.0" fill="#000" textLength="553.1" lengthAdjust="spacingAndGlyphs"><tspan>Ag(55 nm)/BiFeO</tspan><tspan dx="4.3" dy="22.9" font-size="38.8">3</tspan><tspan dx="2.9" dy="-22.9">(4 nm)</tspan></text></g>
<g transform="translate(24.1 1766.8) scale(1 0.910)"><text x="0" y="0" font-family="'Liberation Serif', 'Times New Roman', serif" font-size="43.0" fill="#000">e</text></g>
<text transform="translate(40.0 2064.0) scale(1 0.910) rotate(-90) scale(1.000 1)" text-anchor="middle" font-family="'Liberation Serif', 'Times New Roman', serif" font-size="50.0" fill="#262626">R</text>
<g transform="translate(512.0 2449.0) scale(1 0.910)"><text x="0" y="0" font-family="'Liberation Serif', 'Times New Roman', serif" font-size="52.0" fill="#262626"><tspan font-style="italic" font-size="49">θ</tspan><tspan font-size="28.1" dx="0" dy="-25.2">O</tspan></text></g>
<rect x="684.7" y="1813.4" width="237.1" height="91.1" fill="#fff" stroke="#262626" stroke-width="7.0"/>
<path d="M690.2 1837.3H745.2" stroke="#000" stroke-width="8.5"/>
<g transform="translate(749.2 1838.8) scale(1 0.910)"><text x="0" y="0" font-family="'Liberation Serif', 'Times New Roman', serif" font-size="30.3" fill="#000">n<tspan dy="14.8" font-size="24.2">s.m</tspan><tspan dy="-14.8">=1.33 nm</tspan></text></g>
<path d="M690.2 1881.0H745.2" stroke="#f0f" stroke-width="8.5"/>
<g transform="translate(749.2 1882.5) scale(1 0.910)"><text x="0" y="0" font-family="'Liberation Serif', 'Times New Roman', serif" font-size="30.3" fill="#000">n<tspan dy="14.8" font-size="24.2">s.m</tspan><tspan dy="-14.8">=1.34 nm</tspan></text></g>
<path d="M698.0 2053.8L803.6 1961.7L918.9 2053.8" fill="none" stroke="#000" stroke-width="1.3"/>
<rect x="776.6" y="2010.4" width="103.4" height="34.6" fill="#fff" stroke="#ededed" stroke-width="1"/>
<rect x="696.2" y="2054.6" width="224.9" height="49.0" fill="#ffff14" stroke="#000" stroke-width="1.5"/>
<rect x="696.2" y="2103.6" width="224.9" height="49.1" fill="#66d914" stroke="#000" stroke-width="1.5"/>
<rect x="696.2" y="2152.7" width="224.9" height="37.7" fill="#ff0000" stroke="#000" stroke-width="1.5"/>
<g transform="translate(811.0 2037.0) scale(1 0.910)"><text x="0" y="0" text-anchor="middle" font-family="'Liberation Serif', 'Times New Roman', serif" font-weight="bold" font-size="25.0" fill="#000">BK7</text></g>
<g transform="translate(809.2 2087.5) scale(1 0.910)"><text x="0" y="0" text-anchor="middle" font-family="'Liberation Serif', 'Times New Roman', serif" font-weight="bold" font-size="25.0" fill="#000">Ag</text></g>
<g transform="translate(828.2 2134.7) scale(1 0.910)"><text x="0" y="0" text-anchor="middle" font-family="'Liberation Serif', 'Times New Roman', serif" font-weight="bold" font-size="25.0" fill="#000"><tspan>BiFeO</tspan><tspan dx="0.5" dy="10.5" font-size="20.0">3</tspan></text></g>
<g transform="translate(818.5 2181.4) scale(1 0.910)"><text x="0" y="0" text-anchor="middle" font-family="'Liberation Serif', 'Times New Roman', serif" font-weight="bold" font-size="25.0" fill="#000">S.m</text></g>
<path d="M1456.5 1780.8V2338.3" stroke="#262626" stroke-opacity="0.15" stroke-width="7.0" fill="none"/>
<path d="M1719.9 1780.8V2338.3" stroke="#262626" stroke-opacity="0.15" stroke-width="7.0" fill="none"/>
<path d="M1193.0 2226.8H1983.4" stroke="#262626" stroke-opacity="0.15" stroke-width="7.0" fill="none"/>
<path d="M1193.0 2115.3H1983.4" stroke="#262626" stroke-opacity="0.15" stroke-width="7.0" fill="none"/>
<path d="M1193.0 2003.8H1983.4" stroke="#262626" stroke-opacity="0.15" stroke-width="7.0" fill="none"/>
<path d="M1193.0 1892.3H1983.4" stroke="#262626" stroke-opacity="0.15" stroke-width="7.0" fill="none"/>
<path d="M1456.5 2338.3v-11.3M1456.5 1780.8v11.3M1719.9 2338.3v-11.3M1719.9 1780.8v11.3M1193.0 2226.8h11.3M1983.4 2226.8h-11.3M1193.0 2115.3h11.3M1983.4 2115.3h-11.3M1193.0 2003.8h11.3M1983.4 2003.8h-11.3M1193.0 1892.3h11.3M1983.4 1892.3h-11.3" stroke="#262626" stroke-width="7.0" fill="none"/>
<rect x="1193.0" y="1780.8" width="790.4" height="557.5" fill="none" stroke="#262626" stroke-width="7.0"/>
<path d="M1193.0 1804.5L1200.9 1803.7 1207.9 1802.8 1213.9 1801.9 1219.0 1800.8 1223.6 1799.6 1226.9 1798.4 1228.1 1797.7 1228.9 1797.0 1229.4 1796.4 1229.6 1795.7 1232.6 1795.5 1262.4 1795.2 1322.8 1794.9 1367.0 1794.8 1400.8 1794.9 1425.9 1795.2 1447.0 1795.7 1465.3 1796.4 1481.3 1797.4 1491.1 1798.2 1500.2 1799.1 1508.6 1800.2 1516.5 1801.5 1523.8 1802.9 1530.6 1804.5 1537.0 1806.3 1543.0 1808.2 1548.7 1810.4 1554.1 1812.8 1559.1 1815.5 1563.9 1818.4 1568.4 1821.5 1572.7 1825.0 1576.8 1828.7 1580.7 1832.7 1584.3 1837.0 1587.7 1841.6 1591.0 1846.6 1594.2 1851.9 1597.3 1857.6 1600.2 1863.7 1603.0 1870.2 1605.7 1877.1 1608.3 1884.5 1610.8 1892.3 1613.2 1900.6 1615.5 1909.5 1617.8 1919.0 1620.1 1929.0 1622.2 1939.5 1624.3 1950.7 1628.0 1973.2 1631.7 1998.2 1635.2 2025.7 1638.7 2056.6 1641.7 2085.7 1644.9 2118.7 1656.5 2248.0 1658.9 2272.6 1661.1 2292.2 1662.5 2302.7 1663.7 2311.4 1664.9 2318.6 1666.2 2324.5 1667.4 2329.2 1668.6 2332.4 1669.2 2333.5 1669.8 2334.3 1670.4 2334.8 1671.0 2334.9 1671.5 2334.8 1672.1 2334.4 1673.2 2332.7 1674.3 2330.0 1675.4 2326.2 1676.6 2321.1 1677.8 2315.1 1680.4 2299.1 1682.5 2283.3 1684.9 2263.4 1696.4 2159.1 1699.6 2132.1 1702.6 2107.7 1706.2 2081.6 1709.7 2057.8 1713.3 2035.8 1717.0 2015.6 1721.0 1995.9 1725.2 1977.8 1729.6 1961.0 1734.2 1945.6 1739.0 1931.4 1741.6 1924.6 1744.2 1918.2 1746.9 1912.1 1749.7 1906.1 1752.6 1900.4 1755.6 1894.9 1758.9 1889.3 1762.3 1883.9 1765.8 1878.8 1769.5 1873.8 1773.3 1869.1 1777.3 1864.6 1781.4 1860.2 1785.7 1856.0 1790.1 1852.0 1794.8 1848.2 1799.6 1844.4 1804.7 1840.8 1809.9 1837.4 1815.5 1834.0 1821.2 1830.8 1827.3 1827.7 1833.4 1824.7 1839.7 1821.8 1846.4 1819.0 1853.4 1816.3 1868.5 1810.9 1885.3 1805.6 1903.4 1800.4 1924.0 1795.0 1947.6 1789.2 1983.4 1780.8" stroke="#000" stroke-width="8.5" fill="none" stroke-linejoin="round"/>
<path d="M1193.0 1806.1L1205.8 1805.3 1217.0 1804.3 1226.7 1803.1 1234.9 1801.9 1241.0 1800.7 1245.7 1799.3 1247.9 1798.5 1249.4 1797.6 1250.3 1796.7 1250.7 1795.8 1253.0 1795.7 1281.4 1795.3 1343.7 1795.0 1392.5 1794.9 1429.6 1795.0 1456.4 1795.2 1479.2 1795.7 1499.0 1796.3 1516.5 1797.2 1527.9 1798.0 1538.5 1798.9 1548.3 1800.0 1557.4 1801.2 1565.9 1802.6 1573.8 1804.2 1581.2 1805.9 1588.2 1807.9 1594.9 1810.1 1601.1 1812.5 1607.0 1815.2 1612.6 1818.1 1617.9 1821.3 1622.9 1824.7 1627.6 1828.5 1632.2 1832.5 1636.4 1836.8 1640.4 1841.4 1644.3 1846.3 1648.0 1851.6 1651.5 1857.2 1654.9 1863.3 1658.2 1869.7 1661.3 1876.5 1664.4 1883.8 1667.3 1891.5 1670.1 1899.8 1672.9 1908.6 1675.5 1917.8 1678.1 1927.6 1680.7 1938.0 1683.1 1949.0 1687.6 1971.0 1691.8 1995.4 1696.0 2022.6 1700.2 2052.7 1703.7 2081.2 1707.5 2113.5 1721.2 2240.1 1724.1 2264.3 1726.8 2283.7 1728.4 2293.9 1729.9 2302.6 1731.4 2309.7 1732.8 2315.6 1734.3 2320.1 1735.7 2323.3 1736.4 2324.4 1737.1 2325.2 1737.8 2325.7 1738.5 2325.8 1739.2 2325.7 1739.9 2325.2 1740.5 2324.5 1741.3 2323.4 1742.6 2320.5 1744.1 2316.4 1745.5 2311.0 1747.0 2304.4 1748.6 2296.6 1750.2 2287.4 1752.8 2271.1 1755.7 2250.6 1768.3 2154.7 1774.7 2109.1 1778.2 2085.9 1781.7 2064.5 1785.2 2044.8 1788.8 2026.2 1792.5 2009.1 1796.2 1992.9 1800.1 1977.7 1804.1 1963.4 1808.3 1950.0 1812.6 1937.4 1817.2 1925.6 1821.9 1914.4 1827.5 1902.7 1830.5 1897.1 1833.5 1891.7 1836.6 1886.4 1839.8 1881.4 1843.1 1876.5 1846.5 1871.7 1850.0 1867.1 1853.6 1862.7 1857.3 1858.3 1861.2 1854.1 1865.2 1850.0 1869.3 1846.0 1873.6 1842.2 1878.1 1838.4 1887.1 1831.3 1896.8 1824.5 1907.3 1817.9 1918.8 1811.3 1930.9 1805.0 1944.6 1798.3 1959.7 1791.3 1983.4 1780.8" stroke="#f0f" stroke-width="8.5" fill="none" stroke-linejoin="round"/>
<g font-family="'Liberation Sans', Arial, sans-serif" font-size="46.0" fill="#262626"><text x="1191.8" y="2395.1" text-anchor="middle">60</text><text x="1455.3" y="2395.1" text-anchor="middle">70</text><text x="1718.7" y="2395.1" text-anchor="middle">80</text><text x="1982.2" y="2395.1" text-anchor="middle">90</text><text x="1178.0" y="2354.8" text-anchor="end">0</text><text x="1178.0" y="2243.3" text-anchor="end">0.2</text><text x="1178.0" y="2131.8" text-anchor="end">0.4</text><text x="1178.0" y="2020.3" text-anchor="end">0.6</text><text x="1178.0" y="1908.8" text-anchor="end">0.8</text><text x="1179.6" y="1797.3" text-anchor="end">1</text></g>
<path d="M1155.9 1792.2h9.4v6.0h-9.4zM1169.9 1792.2h9.2v6.0h-9.2z" fill="#fff"/>
<g transform="translate(1589.4 1742.5) scale(1 0.950)"><text x="0" y="0" text-anchor="middle" font-family="'Liberation Serif', 'Times New Roman', serif" font-weight="bold" font-size="51.0" fill="#000" textLength="546.2" lengthAdjust="spacingAndGlyphs"><tspan>Ag(55 nm)/BiFeO</tspan><tspan dx="4.7" dy="22.9" font-size="38.8">3</tspan><tspan dx="2.9" dy="-22.9">(8 nm)</tspan></text></g>
<text x="1095.2" y="1765.4" font-family="'Liberation Serif', 'Times New Roman', serif" font-size="43.0" fill="#000">f</text>
<text transform="translate(1100.9 2059.4) scale(1 1.000) rotate(-90) scale(1.060 1)" text-anchor="middle" font-family="'Liberation Serif', 'Times New Roman', serif" font-size="50.0" fill="#262626">R</text>
<text x="1565.8" y="2465.5" font-family="'Liberation Serif', 'Times New Roman', serif" font-size="52.0" fill="#262626"><tspan font-style="italic" font-size="49">θ</tspan><tspan font-size="28.1" dx="0" dy="-25.2">O</tspan></text>
<rect x="1735.6" y="1795.0" width="233.6" height="96.4" fill="#fff" stroke="#262626" stroke-width="7.0"/>
<path d="M1741.1 1820.0H1796.1" stroke="#000" stroke-width="8.5"/>
<text x="1800.1" y="1822.4" font-family="'Liberation Serif', 'Times New Roman', serif" font-size="30.0" fill="#000">n<tspan dy="14.7" font-size="24.0">s.m</tspan><tspan dy="-14.7">=1.33 nm</tspan></text>
<path d="M1741.1 1866.0H1796.1" stroke="#f0f" stroke-width="8.5"/>
<text x="1800.1" y="1868.4" font-family="'Liberation Serif', 'Times New Roman', serif" font-size="30.0" fill="#000">n<tspan dy="14.7" font-size="24.0">s.m</tspan><tspan dy="-14.7">=1.34 nm</tspan></text>
<path d="M1231.7 2059.1L1336.6 1961.7L1450.4 2059.1" fill="none" stroke="#000" stroke-width="1.3"/>
<rect x="1228.7" y="2059.8" width="221.7" height="51.4" fill="#ffff14" stroke="#000" stroke-width="1.5"/>
<rect x="1228.7" y="2111.2" width="221.7" height="41.1" fill="#66d914" stroke="#000" stroke-width="1.5"/>
<rect x="1228.7" y="2152.3" width="221.7" height="40.8" fill="#ff0000" stroke="#000" stroke-width="1.5"/>
<text x="1342.2" y="2040.6" text-anchor="middle" font-family="'Liberation Serif', 'Times New Roman', serif" font-weight="bold" font-size="25.0" fill="#000">BK7</text>
<text x="1327.6" y="2095.8" text-anchor="middle" font-family="'Liberation Serif', 'Times New Roman', serif" font-weight="bold" font-size="25.0" fill="#000">Ag</text>
<text x="1344.8" y="2141.4" text-anchor="middle" font-family="'Liberation Serif', 'Times New Roman', serif" font-weight="bold" font-size="25.0" fill="#000"><tspan>BiFeO</tspan><tspan dx="0.5" dy="10.5" font-size="20.0">3</tspan></text>
<text x="1328.5" y="2184.9" text-anchor="middle" font-family="'Liberation Serif', 'Times New Roman', serif" font-weight="bold" font-size="25.0" fill="#000">S.m</text>
<path d="M1139.5 1767.5H1145.8V1803.0H1139.5" fill="none" stroke="#d6d6d6" stroke-width="2"/>
</svg></body></html>
